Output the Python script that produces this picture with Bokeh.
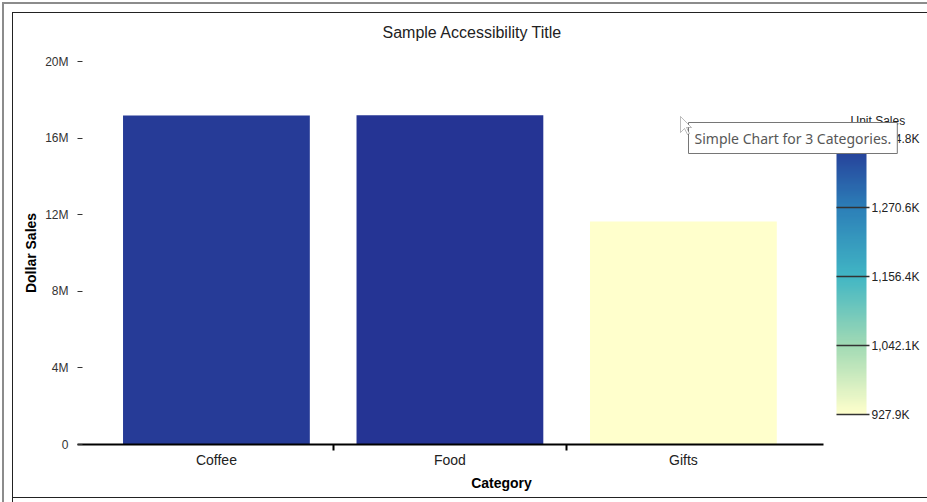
from bokeh.plotting import figure
from bokeh.models import (ColumnDataSource, LinearColorMapper, ColorBar, FixedTicker,
                          CustomJSTickFormatter, Label, Title, PolyAnnotation)
from bokeh.transform import transform
from bokeh.embed import file_html
from bokeh.resources import INLINE

# ---- data ----
categories = ["Coffee", "Food", "Gifts"]
dollar_sales = [17_180_000, 17_190_000, 11_640_000]
unit_sales = [1_372_500, 1_384_820, 927_900]
y_ticks = [0, 4_000_000, 8_000_000, 12_000_000, 16_000_000, 20_000_000]
y_tick_labels = ["0", "4M", "8M", "12M", "16M", "20M"]

# ---- palette (YlGnBu 5-class anchors, interpolated) ----
anchors = ["#ffffcc", "#a1dab4", "#41b6c4", "#2c7fb8", "#253494"]
def hx(c):
    return tuple(int(c[i:i + 2], 16) for i in (1, 3, 5))
pal = []
n = 256
for k in range(n):
    t = k / (n - 1) * (len(anchors) - 1)
    i = min(int(t), len(anchors) - 2)
    f = t - i
    a, b = hx(anchors[i]), hx(anchors[i + 1])
    pal.append("#%02x%02x%02x" % tuple(round(a[j] + (b[j] - a[j]) * f) for j in range(3)))

idx = list(range(len(categories)))
src = ColumnDataSource(dict(x=idx, cat=categories, sales=dollar_sales, units=unit_sales))

low, high = min(unit_sales), max(unit_sales)
mapper = LinearColorMapper(palette=pal, low=low, high=high)

# layout constants (pixels)
W, H = 927, 502
FL, FR_AXIS, FR = 77, 823, 925      # frame left, end of category axis, frame right
FB = 444                            # frame bottom
x_lo, x_hi = -0.595, len(categories) - 1 + 0.6
x_end = x_lo + (FR - FL) * (x_hi - x_lo) / (FR_AXIS - FL)

p = figure(width=W, height=H, output_backend="svg", toolbar_location=None,
           x_range=(x_lo, x_end), y_range=(0, 20_000_000),
           min_border_left=FL, min_border_right=W - FR, min_border_top=61,
           min_border_bottom=H - FB)
p.title = Title(text="Sample Accessibility Title", align="left", offset=305, standoff=41,
                text_font="Liberation Sans", text_font_size="16px",
                text_font_style="normal", text_color="#222222")
p.border_fill_color = None
p.background_fill_color = "#ffffff"
p.styles = {
    "background-color": "#ffffff",
    "box-shadow": ("inset 2px 2px 0 0 #ffffff, inset 4px 4px 0 0 #8c8c8c, "
                   "inset 12px 12px 0 0 #ffffff, inset 13px 13px 0 0 #222222, "
                   "inset 0 -4px 0 0 #ffffff, inset 0 -5px 0 0 #222222"),
}
p.outline_line_color = None
p.grid.visible = False

p.vbar(x="x", top="sales", width=0.8, source=src,
       fill_color=transform("units", mapper), line_color=None)

# x axis
xa = p.xaxis[0]
xa.bounds = (x_lo, x_hi)
xa.ticker = FixedTicker(ticks=idx, minor_ticks=[i + 0.5 for i in idx[:-1]])
xa.major_label_overrides = {i: c for i, c in zip(idx, categories)}
xa.major_tick_line_color = None
xa.major_tick_out = 0
xa.major_tick_in = 0
xa.minor_tick_line_color = "#000000"
xa.minor_tick_line_width = 2
xa.minor_tick_out = 6
xa.minor_tick_in = 0
xa.axis_line_color = "#000000"
xa.axis_line_width = 2
xa.major_label_text_font = "Liberation Sans"
xa.major_label_text_font_size = "14px"
xa.major_label_text_color = "#222222"
xa.major_label_standoff = 1
xa.axis_label = "Category"
xa.axis_label_text_font = "Liberation Sans"
xa.axis_label_text_font_size = "14px"
xa.axis_label_text_font_style = "bold"
xa.axis_label_text_color = "#000000"
xa.axis_label_standoff = 4

# y axis
ya = p.yaxis[0]
ya.ticker = FixedTicker(ticks=y_ticks)
ya.major_label_overrides = {t: l for t, l in zip(y_ticks, y_tick_labels)}
ya.axis_line_color = None
ya.major_tick_in = 5
ya.major_tick_out = 0
ya.major_tick_line_color = "#333333"
ya.minor_tick_line_color = None
ya.major_label_text_font = "Liberation Sans"
ya.major_label_text_font_size = "12px"
ya.major_label_text_color = "#333333"
ya.major_label_standoff = 9
ya.axis_label = "Dollar Sales"
ya.axis_label_text_font = "Liberation Sans"
ya.axis_label_text_font_size = "14px"
ya.axis_label_text_font_style = "bold"
ya.axis_label_text_color = "#000000"
ya.axis_label_standoff = 3

# color bar
step = (high - low) / 4
cb_ticks = [low + i * step for i in range(5)]
cb = ColorBar(color_mapper=mapper, width=30, height=276, location=(836 - FL, FB - 414),
              ticker=FixedTicker(ticks=cb_ticks),
              formatter=CustomJSTickFormatter(code="""
                  return (tick/1000).toLocaleString('en-US',
                      {minimumFractionDigits: 1, maximumFractionDigits: 1}) + 'K';"""),
              major_label_text_font="Liberation Sans", major_label_text_font_size="12px",
              major_label_text_color="#222222", label_standoff=2,
              major_tick_in=30, major_tick_out=3, major_tick_line_color="#333333",
              major_tick_line_width=1.5, minor_tick_line_color=None,
              bar_line_color=None, border_line_color=None, background_fill_color=None,
              padding=0, margin=0)
p.add_layout(cb)

cb_title = Label(x=850 - FL, y=FB - 113, x_units="screen", y_units="screen",
                 anchor="top_left", text="Unit Sales", text_font="Liberation Sans",
                 text_font_size="12px", text_color="#222222")
p.add_layout(cb_title)

# tooltip overlay
tip = Label(x=688 - FL, y=FB - 122, x_units="screen", y_units="screen", anchor="top_left",
            text="Simple Chart for 3 Categories.", text_font="Noto Sans",
            text_font_size="14px", text_color="#575757",
            background_fill_color="#ffffff", border_line_color="#767676",
            border_line_width=1, padding=6)
p.add_layout(tip)

# mouse pointer (screenshot artefact)
cx, cy = 680 - FL, FB - 116
shape = [(0, 0), (0, 16), (4, 12), (7, 18), (9, 17), (6, 11), (11, 11)]
cursor = PolyAnnotation(xs=[cx + dx for dx, dy in shape], ys=[cy - dy for dx, dy in shape],
                        xs_units="screen", ys_units="screen", level="overlay",
                        fill_color="#ffffff", fill_alpha=1.0,
                        line_color="#222222", line_width=1)
p.add_layout(cursor)

open("out.html", "w").write(file_html(p, INLINE))
